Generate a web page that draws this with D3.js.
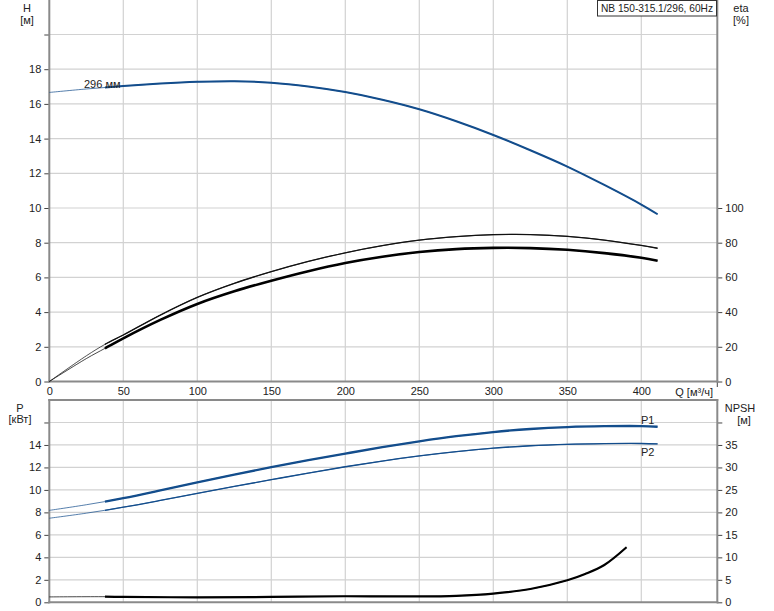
<!DOCTYPE html>
<html><head><meta charset="utf-8">
<script src="https://cdn.jsdelivr.net/npm/d3@7/dist/d3.min.js"></script>
<style>
body{margin:0;background:#fff;}
svg text{font-family:"Liberation Sans",Arial,sans-serif;font-size:11px;fill:#222;}
</style></head><body>
<svg id="c" width="774" height="611"></svg>
<script>
// ---- data ----
const title = "NB 150-315.1/296, 60Hz";
const qH   = [0,25,50,75,100,125,150,175,200,225,250,275,300,325,350,375,400,411];
const hVal = [16.66,16.86,17.03,17.17,17.27,17.31,17.22,17.00,16.68,16.24,15.69,15.00,14.21,13.33,12.39,11.33,10.20,9.64];
const qEta = [0,25,37.6,50,75,100,125,150,175,200,225,250,275,300,325,350,375,400,411];
const eta1 = [0,14.8,21.4,26.8,38.3,48.5,56.6,63.3,69.2,74.2,78.3,81.5,83.5,84.6,84.7,83.7,81.5,78.4,76.8];
const eta2 = [0,13.2,19.1,24.9,35.5,44.7,52.0,58.1,63.6,68.3,71.9,74.6,76.3,77.0,76.9,75.9,74.0,71.3,69.6];
const qP   = [0,25,50,75,100,125,150,175,200,225,250,275,300,325,350,375,400,411];
const p1   = [8.18,8.68,9.26,9.95,10.68,11.37,12.02,12.64,13.23,13.80,14.32,14.78,15.15,15.42,15.59,15.67,15.68,15.62];
const p2   = [7.48,7.93,8.46,9.06,9.69,10.31,10.91,11.50,12.06,12.57,13.02,13.40,13.71,13.93,14.06,14.12,14.13,14.09];
const qN   = [0,37.6,50,100,150,200,250,275,300,325,350,362,375,390];
const npsh = [1.2,1.25,1.2,1.1,1.2,1.35,1.3,1.45,1.95,2.95,4.9,6.3,8.3,12.25];
const xTicks = [0,50,100,150,200,250,300,350,400];
const hTicks = [0,2,4,6,8,10,12,14,16,18,20];
const etaTicks = [0,20,40,60,80,100];
const pTicks = [0,2,4,6,8,10,12,14,16];
const nTicks = [0,5,10,15,20,25,30,35,40];
const qStart = 37.6; // start of the operating (thick) range

// ---- scales ----
const L = 49.3, R = 717.3;
const x = d3.scaleLinear().domain([0,451.35]).range([L,R]);
const yH = d3.scaleLinear().domain([0,22]).range([381.5,-0.2]);
const yE = d3.scaleLinear().domain([0,100]).range([381.5,208]);
const yP = d3.scaleLinear().domain([0,18]).range([602.3,400]);
const yN = d3.scaleLinear().domain([0,45]).range([602.3,400]);

const svg = d3.select("#c");
const gridC = "#d2d2d2", axisC = "#8a8a8a";

function grid(y, ticks, top, bot){
  const g = svg.append("g");
  g.selectAll(".h").data(ticks.filter(t=>t>0)).enter().append("line")
   .attr("x1",L).attr("x2",R).attr("y1",d=>y(d)).attr("y2",d=>y(d))
   .attr("stroke",gridC).attr("stroke-width",1.2);
  g.selectAll(".v").data([50,100,150,200,250,300,350,400]).enter().append("line")
   .attr("x1",d=>x(d)).attr("x2",d=>x(d)).attr("y1",top).attr("y2",bot)
   .attr("stroke",gridC).attr("stroke-width",1.2);
}
grid(yH, hTicks, 0, 381.5);
grid(yP, pTicks, 400, 602.3);

// axes
function leftAxis(y, ticks, labelSkip){
  const ax = d3.axisLeft(y).tickValues(ticks).tickSize(5).tickPadding(3)
    .tickFormat(d=>labelSkip.includes(d)?"":d);
  const g = svg.append("g").attr("transform",`translate(${L},0)`).call(ax);
  g.select(".domain").remove();
  g.selectAll(".tick line").attr("stroke","#444");
  return g;
}
function rightAxis(y, ticks, labelSkip){
  const ax = d3.axisRight(y).tickValues(ticks).tickSize(5).tickPadding(3)
    .tickFormat(d=>labelSkip.includes(d)?"":d);
  const g = svg.append("g").attr("transform",`translate(${R},0)`).call(ax);
  g.select(".domain").remove();
  g.selectAll(".tick line").attr("stroke","#444");
  return g;
}
leftAxis(yH, hTicks, [20]);
rightAxis(yE, etaTicks, []);
leftAxis(yP, pTicks, [16]);
rightAxis(yN, nTicks, [40]);
svg.selectAll(".tick text").style("font-family","Liberation Sans, Arial, sans-serif").style("font-size","11px").attr("fill","#222");

const xa = d3.axisBottom(x).tickValues(xTicks).tickSize(0).tickPadding(6);
const gx = svg.append("g").attr("transform","translate(0,381.5)").call(xa);
gx.select(".domain").remove();
gx.selectAll(".tick text").style("font-family","Liberation Sans, Arial, sans-serif").style("font-size","11px").attr("fill","#222");
svg.append("line").attr("x1",R).attr("x2",R).attr("y1",381.5).attr("y2",387).attr("stroke","#444");

// frame lines
const fr = (x1,y1,x2,y2)=>svg.append("line").attr("x1",x1).attr("y1",y1).attr("x2",x2).attr("y2",y2).attr("stroke",axisC).attr("stroke-width",2);
fr(L,0,L,382.5); fr(R,0,R,382.5); fr(L-1,381.5,R+1,381.5);
fr(L,399,L,603.3); fr(R,399,R,603.3); fr(L-1,602.3,R+1,602.3); fr(L-1,400,R+1,400);

// curves
function curve(qs, vs, y, color, w, from){
  const pts = qs.map((q,i)=>[q,vs[i]]);
  const line = d3.line().x(d=>x(d[0])).y(d=>y(d[1])).curve(d3.curveCatmullRom.alpha(0.5));
  // thin full curve
  svg.append("path").attr("d",line(pts)).attr("fill","none").attr("stroke",color).attr("stroke-width",0.9).attr("stroke-opacity",0.8);
  // operating part
  const path = svg.append("path").attr("d",line(pts)).attr("fill","none").attr("stroke",color).attr("stroke-width",w);
  const node = path.node(), len = node.getTotalLength();
  let lo=0, hi=len;
  for(let k=0;k<40;k++){const m=(lo+hi)/2; if(node.getPointAtLength(m).x < x(from)) lo=m; else hi=m;}
  path.attr("stroke-dasharray",`0 ${lo} ${len} 1`);
}
const blue = "#134d8c";
curve(qH, hVal, yH, blue, 2, qStart);
curve(qEta, eta1, yE, "#111", 1.3, qStart);
curve(qEta, eta2, yE, "#000", 2.6, qStart);
curve(qP, p1, yP, blue, 2.3, qStart);
curve(qP, p2, yP, blue, 1.3, qStart);
curve(qN, npsh, yN, "#000", 2.2, qStart);

// text labels
const t = (s,xx,yy,anchor)=>svg.append("text").attr("x",xx).attr("y",yy).attr("text-anchor",anchor||"middle").text(s);
t("H",27,12); t("[м]",27,24);
t("eta",741,12); t("[%]",741,24);
t("P",20,412); t("[кВт]",20,423);
t("NPSH",740,412); t("[м]",744,424);
t("Q [м³/ч]",713,396,"end");
t("296 мм",84,88,"start");
t("P1",641,424,"start");
t("P2",641,456,"start");

// title box
svg.append("rect").attr("x",597.5).attr("y",0.5).attr("width",119).attr("height",15.5).attr("fill","#fff").attr("stroke","#333").attr("stroke-width",1);
t(title,657,12).style("font-size","10.2px");
</script></body></html>
